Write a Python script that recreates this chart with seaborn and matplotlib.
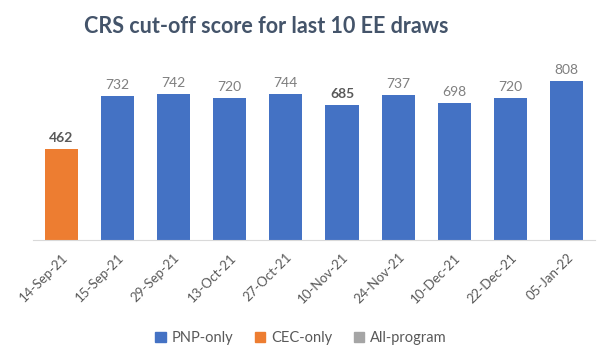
import seaborn as sns
import matplotlib.pyplot as plt
import pandas as pd
from matplotlib.patches import Patch

# Data
dates = ['14-Sep-21', '15-Sep-21', '29-Sep-21', '13-Oct-21', '27-Oct-21',
         '10-Nov-21', '24-Nov-21', '10-Dec-21', '22-Dec-21', '05-Jan-22']
scores = [462, 732, 742, 720, 744, 685, 737, 698, 720, 808]
programs = ['CEC-only', 'PNP-only', 'PNP-only', 'PNP-only', 'PNP-only',
            'PNP-only', 'PNP-only', 'PNP-only', 'PNP-only', 'PNP-only']
legend_order = ['PNP-only', 'CEC-only', 'All-program']
bold_labels = ['14-Sep-21', '10-Nov-21']

colors = {'PNP-only': '#4472C4', 'CEC-only': '#ED7D31', 'All-program': '#A5A5A5'}

df = pd.DataFrame({'Date': dates, 'Score': scores, 'Program': programs})

plt.rcParams['font.family'] = ['Lato', 'DejaVu Sans']

fig = plt.figure(figsize=(6.02, 3.59), dpi=100)
ax = fig.add_axes([0.055, 0.331, 0.933, 0.494])

sns.barplot(data=df, x='Date', y='Score', hue='Program', dodge=False,
            palette=colors, width=0.59, order=dates, ax=ax, legend=False,
            saturation=1)

ax.set_ylim(0, 900)
ax.set_xlim(-0.5, len(dates) - 0.5)

# value labels
for i, (d, s) in enumerate(zip(dates, scores)):
    if d in bold_labels:
        ax.text(i, s + 25, str(s), ha='center', va='bottom', fontsize=10,
                color='#595959', fontweight='bold')
    else:
        ax.text(i, s + 25, str(s), ha='center', va='bottom', fontsize=10,
                color='#7F7F7F')

ax.set_xlabel('')
ax.set_ylabel('')
ax.set_yticks([])
for sp in ['top', 'right', 'left']:
    ax.spines[sp].set_visible(False)
ax.spines['bottom'].set_color('#D9D9D9')
ax.tick_params(axis='x', length=0, pad=8, colors='#595959')
plt.setp(ax.get_xticklabels(), rotation=45, ha='right', rotation_mode='anchor',
         fontsize=9.5)

fig.suptitle('CRS cut-off score for last 10 EE draws', y=0.955,
             fontsize=15.5, fontweight='bold', color='#44546A', x=0.442)

handles = [Patch(color=colors[p], label=p) for p in legend_order]
fig.legend(handles=handles, loc='center', bbox_to_anchor=(0.5, 0.058), ncol=3,
           frameon=False, fontsize=10.5, handlelength=0.7, handleheight=0.7,
           columnspacing=1.5, handletextpad=0.4, labelcolor='#595959')

fig.savefig('out.png', dpi=100)
